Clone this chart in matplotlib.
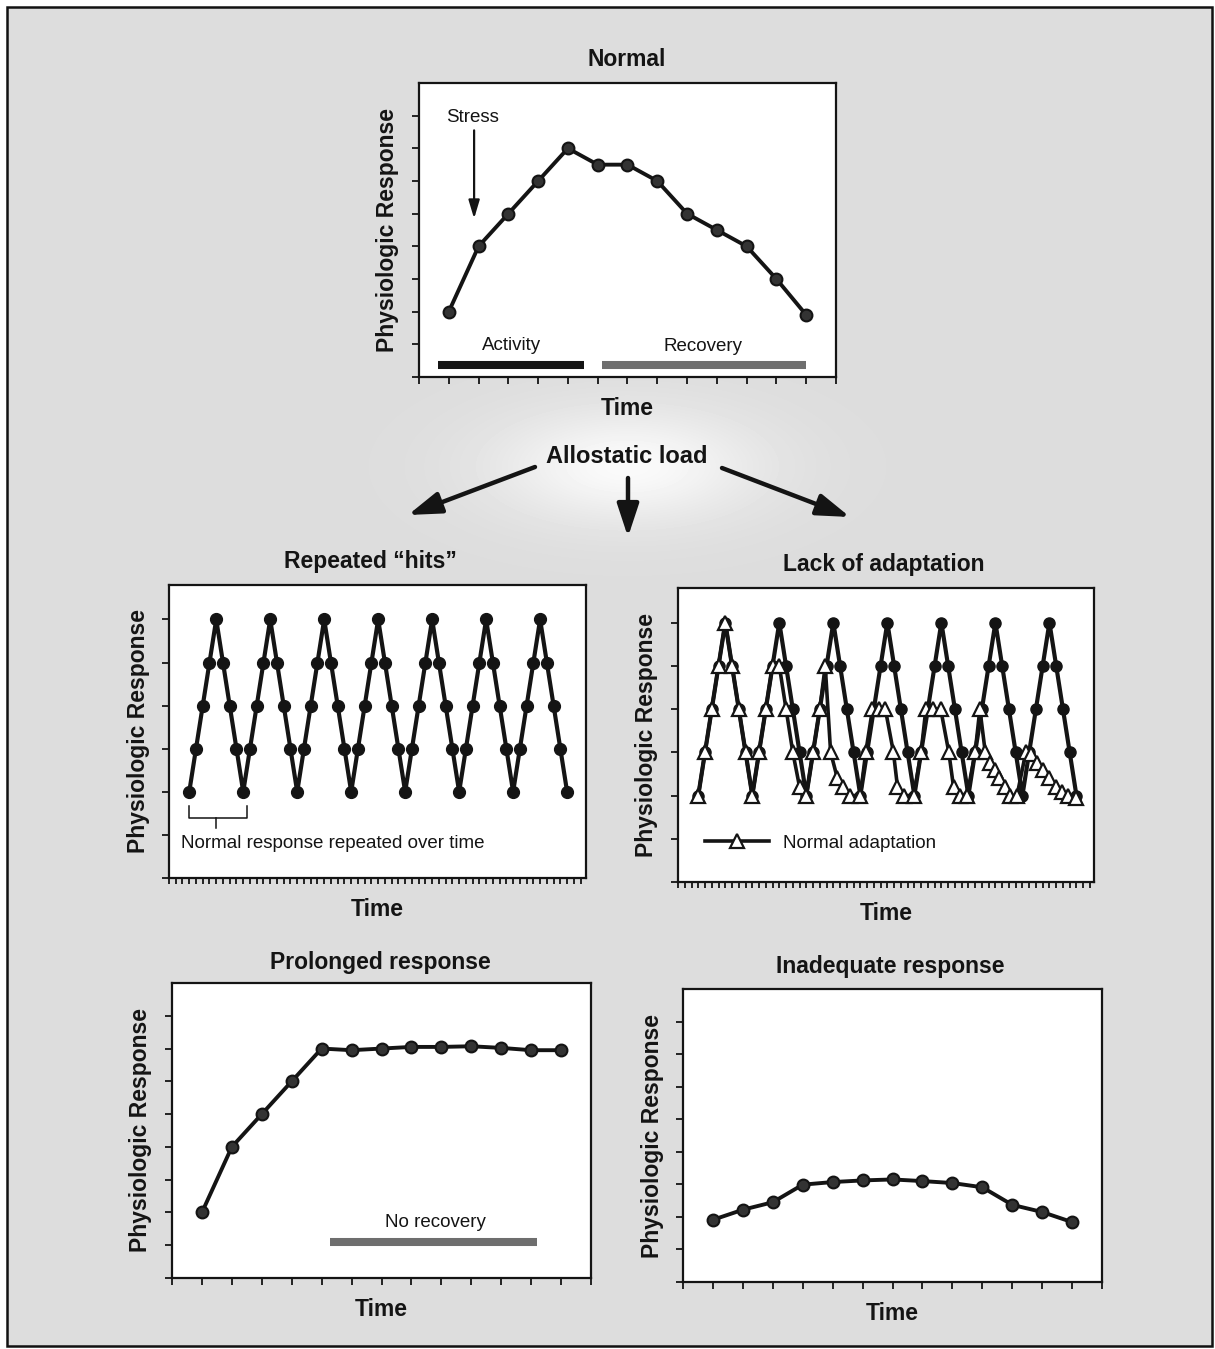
import matplotlib
matplotlib.use("Agg")
import matplotlib.pyplot as plt
from matplotlib.patches import Rectangle
import numpy as np

W, H = 1215, 1349

# ---------------- data ----------------
normal_t = [1, 2, 3, 4, 5, 6, 7, 8, 9, 10, 11, 12, 13]
normal_y = [2, 4, 5, 6, 7, 6.5, 6.5, 6, 5, 4.5, 4, 3, 1.9]

hits_t = list(range(3, 60))
hits_y = [2, 3, 4, 5, 6, 5, 4, 3,
          2, 3, 4, 5, 6, 5, 4, 3,
          2, 3, 4, 5, 6, 5, 4, 3,
          2, 3, 4, 5, 6, 5, 4, 3,
          2, 3, 4, 5, 6, 5, 4, 3,
          2, 3, 4, 5, 6, 5, 4, 3,
          2, 3, 4, 5, 6, 5, 4, 3,
          2]

adapt_t = [3, 4, 5, 6, 7, 8, 9, 10, 11,
           12, 13, 14, 15, 16, 17, 18, 19,
           20, 21, 21.8, 22.6, 23.6, 24.5, 25.5, 27,
           27.8, 28.8, 29.7, 30.7, 31.9, 32.5, 33.5, 34.9,
           36, 36.7, 37.7, 38.9, 40.1, 40.8, 41.7, 42.8,
           44, 44.7, 45.5, 46.2, 46.9, 47.5, 48.4, 49.2, 50.2,
           51.5, 52.3, 53.2, 54.1, 55, 55.9, 56.8, 57.7, 59]
adapt_y = [2, 3, 4, 5, 6, 5, 4, 3, 2,
           3, 4, 5, 5, 4, 3, 2.2, 2,
           3, 4, 5, 3, 2.4, 2.2, 2, 2,
           3, 4, 4, 4, 3, 2.2, 2, 2,
           3, 4, 4, 4, 3, 2.2, 2, 2,
           3, 4, 3, 2.75, 2.6, 2.4, 2.2, 2, 2,
           3, 2.95, 2.75, 2.6, 2.4, 2.2, 2.08, 2, 1.95]

prolonged_t = [1, 2, 3, 4, 5, 6, 7, 8, 9, 10, 11, 12, 13]
prolonged_y = [2, 4, 5, 6, 7, 6.95, 7, 7.05, 7.05, 7.07, 7.02, 6.95, 6.95]

inadequate_t = [1, 2, 3, 4, 5, 6, 7, 8, 9, 10, 11, 12, 13]
inadequate_y = [1.91, 2.22, 2.45, 2.99, 3.07, 3.12, 3.15, 3.10, 3.04, 2.91, 2.37, 2.15, 1.84]

titles = ["Normal", "Repeated \u201chits\u201d", "Lack of adaptation",
          "Prolonged response", "Inadequate response"]
ylabel = "Physiologic Response"
xlabel = "Time"

# ---------------- style ----------------
FONT = "Liberation Sans"
plt.rcParams["font.family"] = [FONT, "DejaVu Sans"]
BIG = 16.5
SMALL = 13.5
INK = "#141414"

fig = plt.figure(figsize=(W / 100, H / 100), dpi=100)
fig.patch.set_facecolor("white")

# background layer in pixel coordinates
bg = fig.add_axes([0, 0, 1, 1])
yy, xx = np.mgrid[0:H, 0:W]
base = 0.865
img = base + (0.98 - base) * np.exp(-(((xx - 627) / 130.0) ** 2 + ((yy - 466) / 55.0) ** 2))
img[(xx < 7) | (xx > 1212) | (yy < 7) | (yy > 1346)] = 1.0
bg.imshow(img, cmap="gray", vmin=0, vmax=1, extent=(0, W, H, 0), aspect="auto",
          interpolation="bilinear")
bg.set_xlim(0, W)
bg.set_ylim(H, 0)
bg.axis("off")
bg.add_patch(Rectangle((7, 7), 1205, 1339, fill=False, lw=1.8, ec="#111111"))


def cap_text(x, y_center, s, size, bold=False, ha="center"):
    cap = size * 100 / 72 * 0.716
    bg.text(x, y_center + cap / 2, s, fontsize=size, ha=ha, va="baseline",
            fontweight="bold" if bold else "normal", color=INK)


def make_ax(left, top, right, bottom, xlim, ylim, xticks, yticks, tlen=5):
    ax = fig.add_axes([left / W, 1 - bottom / H, (right - left) / W, (bottom - top) / H])
    ax.set_facecolor("white")
    ax.set_xlim(*xlim)
    ax.set_ylim(*ylim)
    ax.set_xticks(xticks)
    ax.set_yticks(yticks)
    ax.tick_params(axis="both", direction="out", length=5, width=1.3, colors=INK,
                   labelleft=False, labelbottom=False)
    ax.tick_params(axis="x", length=tlen)
    for sp in ax.spines.values():
        sp.set_linewidth(1.6)
        sp.set_color(INK)
    wpx = right - left
    hpx = bottom - top
    ax.set_ylabel(ylabel, fontsize=BIG, fontweight="bold", va="center", color=INK)
    ax.yaxis.set_label_coords(-31 / wpx, 0.5)
    ax.set_xlabel(xlabel, fontsize=BIG, fontweight="bold", va="baseline", color=INK)
    ax.xaxis.set_label_coords(0.5, -(30 + 8) / hpx)
    return ax


line_kw = dict(color=INK, lw=2.8, marker="o", ms=8.5, mfc="#333333", mec=INK,
               mew=1.5, solid_joinstyle="round")

# ---------------- Normal ----------------
ax1 = make_ax(419, 83, 836, 377, (0, 14), (0, 9), range(0, 15), range(0, 9))
ax1.plot(normal_t, normal_y, **line_kw)
ax1.plot([0.64, 5.53], [0.38, 0.38], color=INK, lw=5.8, solid_capstyle="butt")
ax1.plot([6.13, 13.0], [0.38, 0.38], color="#6e6e6e", lw=5.8, solid_capstyle="butt")
ax1.text(3.1, 0.97, "Activity", fontsize=SMALL, ha="center", va="center", color=INK)
ax1.text(9.55, 0.94, "Recovery", fontsize=SMALL, ha="center", va="center", color=INK)
ax1.text(1.81, 7.95, "Stress", fontsize=SMALL, ha="center", va="center", color=INK)
ax1.annotate("", xy=(1.85, 4.85), xytext=(1.85, 7.55),
             arrowprops=dict(arrowstyle="-|>,head_length=1.1,head_width=0.33", lw=1.6,
                             color=INK, mutation_scale=10, shrinkA=0, shrinkB=0))

# ---------------- Repeated hits ----------------
ax2 = make_ax(169, 585, 586, 878, (0, 61.8), (0, 6.8), range(0, 62), range(0, 7), tlen=4)
ax2.plot(hits_t, hits_y, color=INK, lw=3.0, marker="o", ms=8.5, mfc=INK,
         mec=INK, solid_joinstyle="round")
bx0, bx1, bxm = 3, 11.5, 7
ax2.plot([bx0, bx0, bx1, bx1], [1.66, 1.39, 1.39, 1.66], color=INK, lw=1.1)
ax2.plot([bxm, bxm], [1.39, 1.16], color=INK, lw=1.1)
ax2.text(1.8, 0.81, "Normal response repeated over time", fontsize=SMALL, ha="left",
         va="center", color=INK)

# ---------------- Lack of adaptation ----------------
ax3 = make_ax(678, 588, 1094, 882, (0, 61.6), (0, 6.8), range(0, 62), range(0, 7), tlen=4)
ax3.plot(hits_t, hits_y, color=INK, lw=3.0, marker="o", ms=8, mfc=INK,
         mec=INK, solid_joinstyle="round")
ax3.plot(adapt_t, adapt_y, color=INK, lw=2.6, marker="^", ms=10.5, mfc="white",
         mec=INK, mew=1.6, solid_joinstyle="round", label="Normal adaptation")
ax3.legend(loc="center left", bbox_to_anchor=((705 - 678) / 416, (882 - 843) / 294),
           frameon=False, handlelength=3.4, handletextpad=0.75, borderaxespad=0,
           borderpad=0, numpoints=1, fontsize=SMALL, labelcolor=INK)

# ---------------- Prolonged ----------------
ax4 = make_ax(172, 983, 591, 1278, (0, 14), (0, 9), range(0, 15), range(0, 9))
ax4.plot(prolonged_t, prolonged_y, **line_kw)
ax4.plot([5.29, 12.19], [1.10, 1.10], color="#6e6e6e", lw=5.8, solid_capstyle="butt")
ax4.text(8.8, 1.69, "No recovery", fontsize=SMALL, ha="center", va="center", color=INK)

# ---------------- Inadequate ----------------
ax5 = make_ax(683, 989, 1102, 1282, (0, 14), (0, 9), range(0, 15), range(0, 9))
ax5.plot(inadequate_t, inadequate_y, **line_kw)

# ---------------- titles and central text ----------------
cap_text(627, 58, titles[0], BIG, bold=True)
cap_text(370, 560, titles[1], BIG, bold=True)
cap_text(884, 563, titles[2], BIG, bold=True)
cap_text(380, 961, titles[3], BIG, bold=True)
cap_text(890, 965, titles[4], BIG, bold=True)
cap_text(627, 455, "Allostatic load", BIG + 0.5, bold=True)

arrow_kw = dict(arrowstyle="-|>,head_length=1.0,head_width=0.33", lw=3.2, color=INK,
                mutation_scale=20, shrinkA=0, shrinkB=0)
bg.annotate("", xy=(408, 515), xytext=(535, 467), arrowprops=arrow_kw)
bg.annotate("", xy=(628, 537), xytext=(628, 478), arrowprops=arrow_kw)
bg.annotate("", xy=(850, 517), xytext=(722, 468), arrowprops=arrow_kw)

fig.savefig("out.png", dpi=100)
